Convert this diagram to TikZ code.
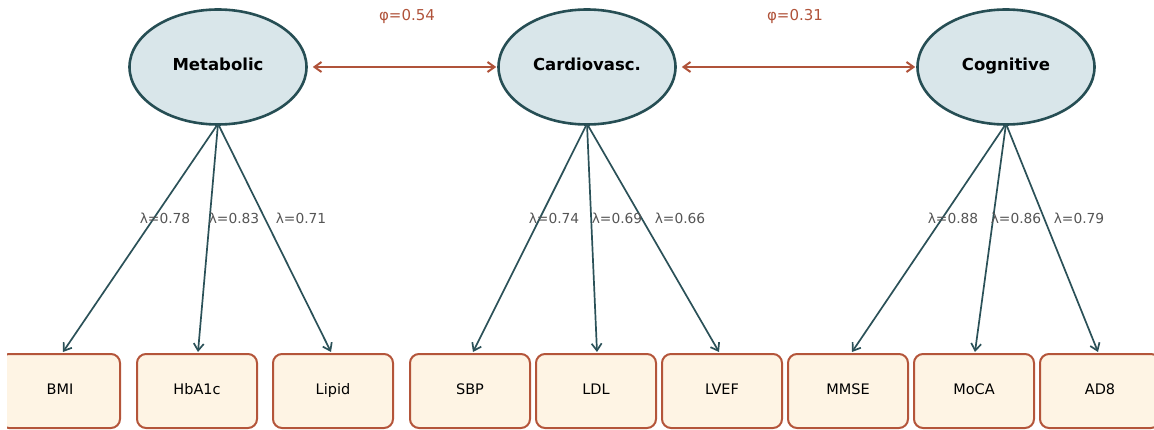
\documentclass[tikz,border=0pt]{standalone}
\usepackage{fontspec}
\setmainfont{DejaVu Sans}
\usetikzlibrary{arrows.meta,shapes.geometric}
\definecolor{ellfill}{HTML}{D9E6EA}
\definecolor{elldraw}{HTML}{264E54}
\definecolor{boxfill}{HTML}{FEF4E4}
\definecolor{boxdraw}{HTML}{B4553A}
\definecolor{load}{HTML}{2B5158}
\definecolor{corr}{HTML}{B0533A}
\definecolor{lab}{HTML}{555555}
\tikzset{
  latent/.style={ellipse,draw=elldraw,fill=ellfill,line width=2.6pt,minimum width=177pt,minimum height=115pt,inner sep=0pt,text height=0.73em,text depth=0pt,font=\fontsize{16.5}{19}\selectfont\bfseries},
  obs/.style={rectangle,rounded corners=9pt,draw=boxdraw,fill=boxfill,line width=2pt,minimum width=120pt,minimum height=74pt,inner sep=0pt,text height=0.73em,text depth=0pt,font=\fontsize{14.5}{17}\selectfont},
  loadarrow/.style={draw=load,line width=1.7pt,-{Straight Barb[length=7pt,width=10pt,line width=1.7pt]}},
  corrarrow/.style={draw=corr,line width=2pt,{Straight Barb[length=7pt,width=10pt,line width=2pt]}-{Straight Barb[length=7pt,width=10pt,line width=2pt]}},
  lamlab/.style={text=lab,font=\fontsize{13.8}{16}\selectfont,inner sep=1pt},
  philab/.style={text=corr,font=\fontsize{15}{17}\selectfont,inner sep=1pt}
}
\begin{document}
\begin{tikzpicture}[x=1pt,y=-1pt]
\useasboundingbox (0,0) rectangle (1154,430);
\begin{scope}
\clip (7,0) rectangle (1154,430);
\node[latent] (met) at (218,67) {Metabolic};
\node[latent] (car) at (587,67) {Cardiovasc.};
\node[latent] (cog) at (1006,67) {Cognitive};

\node[obs] (bmi) at (60,391) {BMI};
\node[obs] (hba) at (197,391) {HbA1c};
\node[obs] (lip) at (333,391) {Lipid};
\node[obs] (sbp) at (470,391) {SBP};
\node[obs] (ldl) at (596,391) {LDL};
\node[obs] (lvef) at (722,391) {LVEF};
\node[obs] (mmse) at (848,391) {MMSE};
\node[obs] (moca) at (974,391) {MoCA};
\node[obs] (ad8) at (1100,391) {AD8};

\draw[loadarrow] ([yshift=2pt]met.south) -- ([xshift=3pt,yshift=1pt]bmi.north);
\draw[loadarrow] ([yshift=2pt]met.south) -- ([xshift=1pt,yshift=1pt]hba.north);
\draw[loadarrow] ([yshift=2pt]met.south) -- ([xshift=-2pt,yshift=1pt]lip.north);
\draw[loadarrow] ([yshift=2pt]car.south) -- ([xshift=3pt,yshift=1pt]sbp.north);
\draw[loadarrow] ([yshift=2pt]car.south) -- ([xshift=1pt,yshift=1pt]ldl.north);
\draw[loadarrow] ([yshift=2pt]car.south) -- ([xshift=-3pt,yshift=1pt]lvef.north);
\draw[loadarrow] ([yshift=2pt]cog.south) -- ([xshift=4pt,yshift=1pt]mmse.north);
\draw[loadarrow] ([yshift=2pt]cog.south) -- ([xshift=1pt,yshift=1pt]moca.north);
\draw[loadarrow] ([yshift=2pt]cog.south) -- ([xshift=-2pt,yshift=1pt]ad8.north);

\draw[corrarrow] ([xshift=5pt]met.east) -- ([xshift=-1pt]car.west);
\draw[corrarrow] ([xshift=5pt]car.east) -- ([xshift=-1pt]cog.west);

\node[lamlab] (l1) at (165,218) {λ=0.78};
\node[lamlab] (l2) at (234,218) {λ=0.83};
\node[lamlab] (l3) at (301,218) {λ=0.71};
\node[lamlab] (l4) at (554,218) {λ=0.74};
\node[lamlab] (l5) at (617,218) {λ=0.69};
\node[lamlab] (l6) at (680,218) {λ=0.66};
\node[lamlab] (l7) at (953,218) {λ=0.88};
\node[lamlab] (l8) at (1016,218) {λ=0.86};
\node[lamlab] (l9) at (1079,218) {λ=0.79};

\node[philab] (p1) at (407,16) {φ=0.54};
\node[philab] (p2) at (795,16) {φ=0.31};
\end{scope}
\end{tikzpicture}
\end{document}
